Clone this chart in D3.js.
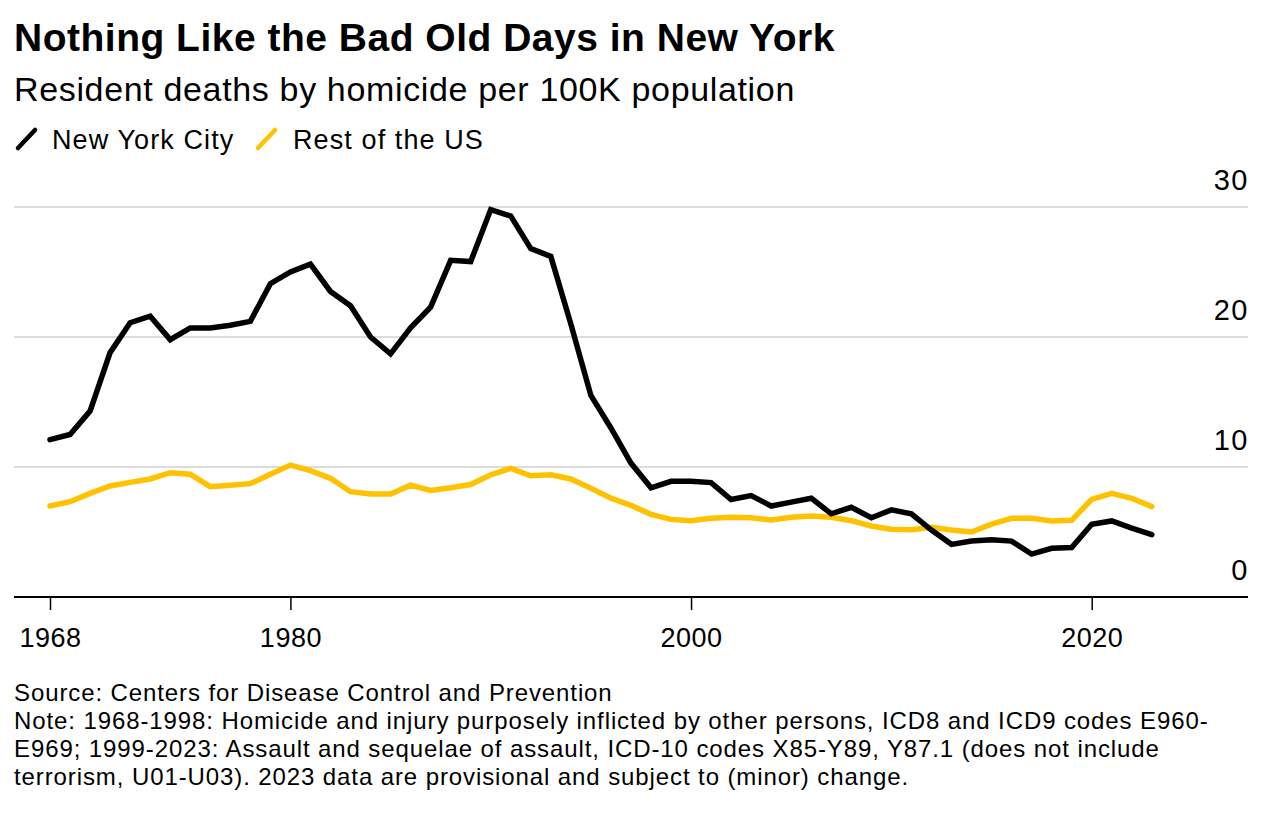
<!DOCTYPE html>
<html><head><meta charset="utf-8">
<script src="https://cdn.jsdelivr.net/npm/d3@7"></script>
<style>body{margin:0;background:#fff;} svg{display:block;font-family:"Liberation Sans",Arial,sans-serif;}</style>
</head><body>
<svg id="c" width="1288" height="816"></svg>
<script>
const years = d3.range(1968, 2024);
const nyc = [12.1,12.5,14.3,18.8,21.1,21.6,19.8,20.7,20.7,20.9,21.2,24.1,25.0,25.6,23.5,22.4,20.0,18.7,20.7,22.3,
  25.9,25.8,29.8,29.3,26.8,26.2,21.0,15.5,13.0,10.3,8.4,8.9,8.9,8.8,7.5,7.8,7.0,7.3,7.6,6.4,6.9,6.1,6.7,6.4,5.15,4.05,4.3,4.4,4.3,3.3,3.75,3.8,5.6,5.85,5.3,4.8];
const rest = [7.0,7.33,7.97,8.54,8.82,9.08,9.56,9.44,8.49,8.59,8.72,9.44,10.15,9.72,9.13,8.1,7.92,7.92,8.6,8.2,
  8.4,8.65,9.4,9.9,9.33,9.4,9.08,8.36,7.6,7.05,6.36,5.97,5.87,6.05,6.13,6.1,5.92,6.13,6.23,6.13,5.87,5.46,5.22,5.17,5.36,5.15,5.0,5.6,6.05,6.05,5.85,5.9,7.51,7.97,7.59,6.95];
const xTicks = [1968, 1980, 2000, 2020];
const yTicks = [0, 10, 20, 30];
const seriesNames = ["New York City", "Rest of the US"];
const colors = ["#000000", "#ffc200"];

const svg = d3.select("#c");
const x = d3.scaleLinear().domain([1968, 2020]).range([50, 1091.7]);
const y = d3.scaleLinear().domain([0, 30]).range([597, 207]);
const left = 14, right = 1248;

svg.append("text").attr("x", 14).attr("y", 51).attr("font-size", 39).attr("font-weight", "bold")
  .attr("fill", "#000").attr("letter-spacing", 0.5).text("Nothing Like the Bad Old Days in New York");
svg.append("text").attr("x", 14).attr("y", 101).attr("font-size", 34).attr("fill", "#000")
  .attr("letter-spacing", 0.65).text("Resident deaths by homicide per 100K population");

// legend
const leg = [{x: 18, tx: 52}, {x: 258, tx: 293}];
seriesNames.forEach((n, i) => {
  svg.append("line").attr("x1", leg[i].x).attr("y1", 148).attr("x2", leg[i].x + 17).attr("y2", 130)
    .attr("stroke", colors[i]).attr("stroke-width", 4.5).attr("stroke-linecap", "round");
  svg.append("text").attr("x", leg[i].tx).attr("y", 149).attr("font-size", 27).attr("letter-spacing", 1.1)
    .attr("fill", "#000").text(n);
});

// grid
svg.append("g").selectAll("line").data(yTicks.filter(d => d > 0)).join("line")
  .attr("x1", left).attr("x2", right).attr("y1", d => y(d)).attr("y2", d => y(d))
  .attr("stroke", "#dcdcdc").attr("stroke-width", 2);
svg.append("g").selectAll("text").data(yTicks).join("text")
  .attr("x", right + 1).attr("y", d => y(d) - 17).attr("text-anchor", "end")
  .attr("font-size", 29).attr("letter-spacing", 1.5).attr("fill", "#000").text(d => d);

// x axis
const xa = svg.append("g").attr("transform", "translate(0,597)")
  .call(d3.axisBottom(x).tickValues(xTicks).tickFormat(d3.format("d")).tickSize(13).tickPadding(18));
xa.select(".domain").remove();
xa.selectAll(".tick line").attr("stroke", "#000").attr("stroke-width", 1.5);
xa.selectAll(".tick text").attr("font-size", 27).attr("letter-spacing", 0.5).attr("fill", "#000")
  .attr("font-family", "Liberation Sans, Arial, sans-serif");
svg.append("line").attr("x1", left).attr("x2", right).attr("y1", 597).attr("y2", 597).attr("stroke", "#000").attr("stroke-width", 2);

const line = d3.line().x((d, i) => x(years[i])).y(d => y(d));
[rest, nyc].forEach((s, k) => {
  svg.append("path").attr("d", line(s)).attr("fill", "none")
    .attr("stroke", k === 0 ? colors[1] : colors[0]).attr("stroke-width", 5.5)
    .attr("stroke-linejoin", "miter").attr("stroke-linecap", "round");
});

const notes = ["Source: Centers for Disease Control and Prevention",
  "Note: 1968-1998: Homicide and injury purposely inflicted by other persons, ICD8 and ICD9 codes E960-",
  "E969; 1999-2023: Assault and sequelae of assault, ICD-10 codes X85-Y89, Y87.1 (does not include",
  "terrorism, U01-U03). 2023 data are provisional and subject to (minor) change."];
svg.append("g").selectAll("text").data(notes).join("text")
  .attr("x", 14).attr("y", (d, i) => 701 + i * 28).attr("font-size", 24).attr("letter-spacing", 0.9)
  .attr("fill", "#000").text(d => d);
</script>
</body></html>
